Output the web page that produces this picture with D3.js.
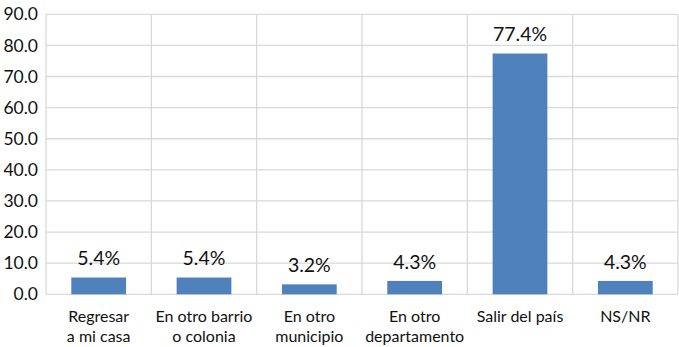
<!DOCTYPE html>
<html>
<head>
<meta charset="utf-8">
<script src="https://cdn.jsdelivr.net/npm/d3@7"></script>
<style>
  html, body { margin: 0; padding: 0; background: #fff; }
  svg text { font-family: Lato, "Open Sans", sans-serif; fill: #111; }
</style>
</head>
<body>
<svg id="chart" width="679" height="347"></svg>
<script>
// Categories (each label split into lines) and their percentages
const categories = [
  ["Regresar", "a mi casa"],
  ["En otro barrio", "o colonia"],
  ["En otro", "municipio"],
  ["En otro", "departamento"],
  ["Salir del país"],
  ["NS/NR"]
];
const values = [5.4, 5.4, 3.2, 4.3, 77.4, 4.3];
const yTicks = [0, 10, 20, 30, 40, 50, 60, 70, 80, 90];

const svg = d3.select("#chart");
const margin = { top: 14.3, right: 1, bottom: 52.7, left: 46 };
const width = 679 - margin.left - margin.right;
const height = 347 - margin.top - margin.bottom;

const g = svg.append("g").attr("transform", `translate(${margin.left},${margin.top})`);

const idx = categories.map((d, i) => i);
const x = d3.scaleBand().domain(idx).range([0, width]).paddingInner(0.48).paddingOuter(0.24);
const xCell = d3.scaleBand().domain(idx).range([0, width]);
const y = d3.scaleLinear().domain([0, 90]).range([height, 0]);

// Horizontal gridlines
g.append("g")
  .selectAll("line")
  .data(yTicks)
  .join("line")
  .attr("x1", 0).attr("x2", width)
  .attr("y1", d => y(d)).attr("y2", d => y(d))
  .attr("stroke", "#d9d9d9").attr("stroke-width", 1.3);

// Vertical separators between categories
g.append("g")
  .selectAll("line")
  .data(d3.range(categories.length + 1))
  .join("line")
  .attr("x1", d => d * xCell.bandwidth()).attr("x2", d => d * xCell.bandwidth())
  .attr("y1", 0).attr("y2", height)
  .attr("stroke", "#d9d9d9").attr("stroke-width", 1.3);

// Y axis labels
const yAxis = d3.axisLeft(y).tickValues(yTicks).tickFormat(d3.format(".1f")).tickSize(0).tickPadding(8);
const ya = g.append("g").call(yAxis);
ya.select(".domain").remove();
ya.selectAll("text").style("font-size", "17.5px").style("font-family", "Lato, sans-serif").attr("fill", "#111");

// Bars
g.append("g")
  .selectAll("rect")
  .data(values)
  .join("rect")
  .attr("x", (d, i) => x(i))
  .attr("width", x.bandwidth())
  .attr("y", d => y(d))
  .attr("height", d => height - y(d))
  .attr("fill", "#4f81bd");

// Value labels
g.append("g")
  .selectAll("text")
  .data(values)
  .join("text")
  .attr("x", (d, i) => x(i) + x.bandwidth() / 2)
  .attr("y", d => y(d) - 12)
  .attr("text-anchor", "middle")
  .style("font-size", "19.5px")
  .text(d => d.toFixed(1) + "%");

// Category labels, one text element per line
const catG = g.append("g");
categories.forEach((lines, i) => {
  lines.forEach((line, j) => {
    catG.append("text")
      .attr("x", xCell(i) + xCell.bandwidth() / 2)
      .attr("y", height + 28 + j * 19.5)
      .attr("text-anchor", "middle")
      .style("font-size", "16px")
      .text(line);
  });
});
</script>
</body>
</html>
